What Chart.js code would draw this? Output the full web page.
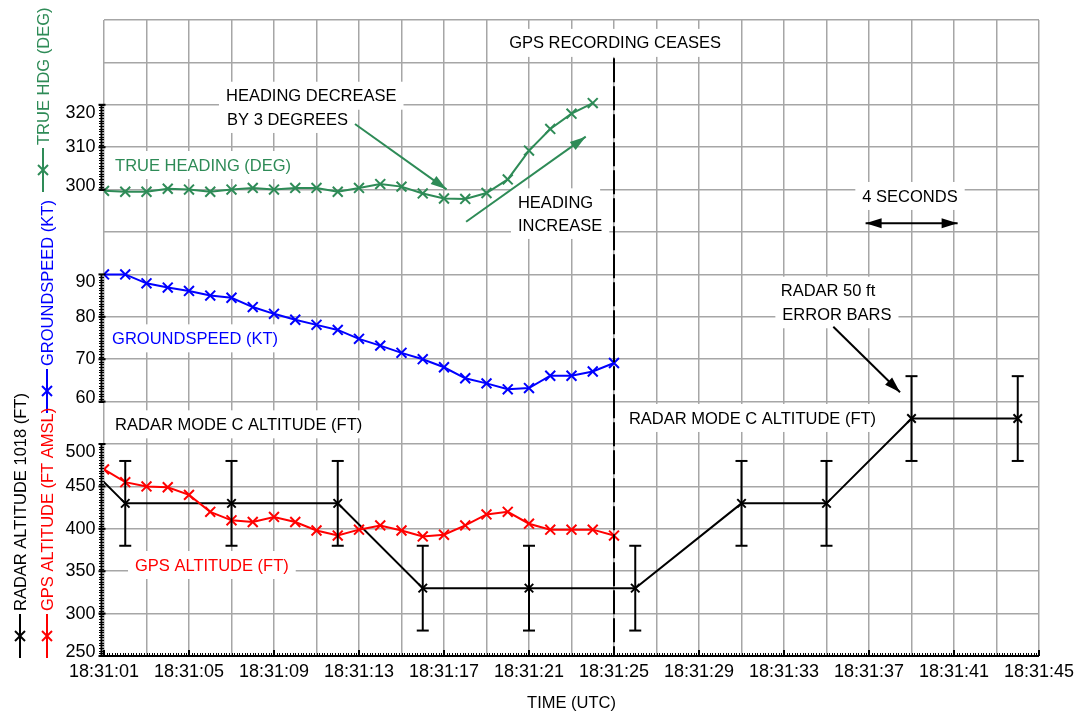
<!DOCTYPE html>
<html>
<head>
<meta charset="utf-8">
<title>GPS and radar altitude, groundspeed and true heading</title>
<script src="https://cdn.jsdelivr.net/npm/chart.js@4.4.1/dist/chart.umd.min.js"></script>
<style>
    html, body { margin: 0; padding: 0; background: #fff; }
    #wrap { width: 1082px; height: 715px; }
</style>
</head>
<body>
<div id="wrap"><canvas id="chart" width="1082" height="715"></canvas></div>
<script>
// --- Data (x = seconds after 18:31:00 UTC) ---
const gpsSeconds = [1, 2, 3, 4, 5, 6, 7, 8, 9, 10, 11, 12, 13, 14, 15, 16, 17, 18, 19, 20, 21, 22, 23, 24, 25];
const trueHeading = [299.7, 299.5, 299.5, 300.2, 300.0, 299.5, 300.0, 300.4, 300.0, 300.4, 300.4, 299.5,
    300.4, 301.3, 300.7, 299.1, 297.9, 297.8, 299.2, 302.4, 309.2, 314.3, 317.9, 320.4];
const groundspeed = [90.0, 90.0, 87.9, 86.9, 86.1, 85.0, 84.5, 82.3, 80.7, 79.3, 78.1, 76.9, 74.8,
    73.2, 71.5, 70.0, 68.1, 65.5, 64.3, 62.9, 63.2, 66.1, 66.1, 67.1, 69.1];
const gpsAltitude = [470, 455, 450, 449, 440, 420, 410, 408, 414, 408, 398, 392, 399, 404, 398, 391,
    393, 404, 417, 420, 406, 399, 399, 399, 392];
const radarSeconds = [-2, 2, 7, 12, 16, 21, 26, 31, 35, 39, 44];
const radarAltitude = [530, 430, 430, 430, 330, 330, 330, 430, 430, 530, 530];
const radarError = [50, 50, 50, 50, 50, 50, 50, 50, 50, 50, 50];
const gpsCeasesAt = 25;

// tick labels
const timeLabels = ['18:31:01', '18:31:05', '18:31:09', '18:31:13', '18:31:17', '18:31:21',
    '18:31:25', '18:31:29', '18:31:33', '18:31:37', '18:31:41', '18:31:45'];
const altTicks = [250, 300, 350, 400, 450, 500];
const gsTicks = [60, 70, 80, 90];
const hdgTicks = [300, 310, 320];

// --- Styles ---
const FONT = '"Liberation Sans", Arial, sans-serif';
const GREEN = '#2e8b57';
const BLUE = '#0000ff';
const RED = '#ff0000';
const GRID = '#a6a6a6';

// annotations, placed in (seconds, altitude-axis) coordinates
const notes = [
    { text: 'GPS RECORDING CEASES', x: 25.05, y: 973, align: 'center', color: '#000' },
    { text: 'HEADING DECREASE', x: 6.74, y: 910.7, align: 'left', color: '#000' },
    { text: 'BY 3 DEGREES', x: 6.79, y: 883.3, align: 'left', color: '#000' },
    { text: 'TRUE HEADING (DEG)', x: 1.52, y: 829, align: 'left', color: GREEN },
    { text: 'HEADING', x: 20.48, y: 785, align: 'left', color: '#000' },
    { text: 'INCREASE', x: 20.48, y: 758.3, align: 'left', color: '#000' },
    { text: 'GROUNDSPEED (KT)', x: 1.38, y: 624.6, align: 'left', color: BLUE },
    { text: 'RADAR MODE C ALTITUDE (FT)', x: 1.52, y: 523.2, align: 'left', color: '#000' },
    { text: 'RADAR MODE C ALTITUDE (FT)', x: 25.7, y: 530.7, align: 'left', color: '#000' },
    { text: 'GPS ALTITUDE (FT)', x: 2.46, y: 357.3, align: 'left', color: RED },
    { text: 'RADAR 50 ft', x: 35.07, y: 680.8, align: 'center', color: '#000' },
    { text: 'ERROR BARS', x: 35.49, y: 653, align: 'center', color: '#000' },
    { text: '4 SECONDS', x: 38.93, y: 792.5, align: 'center', color: '#000' }
];
const arrows = [
    { from: [12.81, 877.4], to: [17.12, 800.3], color: GREEN, both: false },
    { from: [18.04, 762.1], to: [23.67, 862.4], color: GREEN, both: false },
    { from: [35.32, 638.3], to: [38.46, 561.0], color: '#000', both: false },
    { from: [36.84, 760.3], to: [41.17, 760.3], color: '#000', both: true }
];
const axisTitles = [
    { text: 'TRUE HDG (DEG)', color: GREEN, x: 43, bottom: 192 },
    { text: 'GROUNDSPEED (KT)', color: BLUE, x: 47, bottom: 413 },
    { text: 'GPS ALTITUDE (FT AMSL)', color: RED, x: 47, bottom: 658 },
    { text: 'RADAR ALTITUDE 1018 (FT)', color: '#000', x: 20, bottom: 658 }
];

function toPoints(xs, ys) {
    return ys.map((v, i) => ({ x: xs[i], y: v }));
}

function line(ctx, x1, y1, x2, y2) {
    ctx.beginPath();
    ctx.moveTo(x1, y1);
    ctx.lineTo(x2, y2);
    ctx.stroke();
}

function arrowHead(ctx, x1, y1, x2, y2, len, half) {
    const a = Math.atan2(y2 - y1, x2 - x1);
    const bx = x2 - len * Math.cos(a), by = y2 - len * Math.sin(a);
    ctx.beginPath();
    ctx.moveTo(x2, y2);
    ctx.lineTo(bx + half * Math.sin(a), by - half * Math.cos(a));
    ctx.lineTo(bx - half * Math.sin(a), by + half * Math.cos(a));
    ctx.closePath();
    ctx.fill();
}

function drawAxisBar(ctx, scale, ticks, xLine) {
    const top = scale.getPixelForValue(ticks[ticks.length - 1]);
    const bottom = scale.getPixelForValue(ticks[0]);
    ctx.strokeStyle = '#000';
    ctx.lineWidth = 2;
    line(ctx, xLine, top, xLine, bottom);
    // minor ticks
    ctx.lineWidth = 1;
    const n = (ticks.length - 1) * 16;
    for (let i = 0; i <= n; i++) {
        const y = Math.round(top + (bottom - top) * i / n) + 0.5;
        line(ctx, xLine - 2.5, y, xLine + 2.5, y);
    }
    // major ticks + labels
    ctx.lineWidth = 2;
    ctx.fillStyle = '#000';
    ctx.font = '18px ' + FONT;
    ctx.textAlign = 'right';
    ctx.textBaseline = 'middle';
    ticks.forEach((v, i) => {
        const y = scale.getPixelForValue(v);
        line(ctx, xLine - 3, y, xLine + 4, y);
        let ly = y;
        if (i === ticks.length - 1) ly += 8;
        else if (i === 0) ly -= 4;
        ctx.fillText(String(v), xLine - 6, ly);
    });
}

const overlayPlugin = {
    id: 'overlay',
    beforeDatasetsDraw(chart) {
        const ctx = chart.ctx;
        const xs = chart.scales.x, ys = chart.scales.y;
        ctx.save();
        ctx.font = '16.5px ' + FONT;
        ctx.textBaseline = 'middle';
        ctx.textAlign = 'left';
        notes.forEach(n => {
            const w = ctx.measureText(n.text).width;
            const px = xs.getPixelForValue(n.x), py = ys.getPixelForValue(n.y);
            const left = n.align === 'center' ? px - w / 2 : px;
            ctx.fillStyle = '#fff';
            ctx.fillRect(left - 7, py - 14, w + 14, 28);
        });
        notes.forEach(n => {
            const w = ctx.measureText(n.text).width;
            const px = xs.getPixelForValue(n.x), py = ys.getPixelForValue(n.y);
            const left = n.align === 'center' ? px - w / 2 : px;
            ctx.fillStyle = n.color;
            ctx.fillText(n.text, left, py + 1);
        });
        ctx.restore();
    },
    afterDatasetsDraw(chart) {
        const ctx = chart.ctx;
        const area = chart.chartArea;
        const xs = chart.scales.x, ys = chart.scales.y;
        ctx.save();

        // radar error bars
        ctx.save();
        ctx.beginPath();
        ctx.rect(area.left, area.top, area.right - area.left, area.bottom - area.top);
        ctx.clip();
        ctx.strokeStyle = '#000';
        ctx.lineWidth = 2;
        radarSeconds.forEach((t, i) => {
            const px = xs.getPixelForValue(t);
            const hi = ys.getPixelForValue(radarAltitude[i] + radarError[i]);
            const lo = ys.getPixelForValue(radarAltitude[i] - radarError[i]);
            line(ctx, px, hi, px, lo);
            line(ctx, px - 6, hi, px + 6, hi);
            line(ctx, px - 6, lo, px + 6, lo);
        });
        ctx.restore();

        // GPS recording ceases
        const cx = xs.getPixelForValue(gpsCeasesAt);
        ctx.strokeStyle = '#000';
        ctx.lineWidth = 2;
        ctx.setLineDash([24, 4]);
        line(ctx, cx, ys.getPixelForValue(955), cx, area.bottom);
        ctx.setLineDash([]);

        // arrows
        arrows.forEach(a => {
            const x1 = xs.getPixelForValue(a.from[0]), y1 = ys.getPixelForValue(a.from[1]);
            const x2 = xs.getPixelForValue(a.to[0]), y2 = ys.getPixelForValue(a.to[1]);
            ctx.strokeStyle = a.color;
            ctx.fillStyle = a.color;
            ctx.lineWidth = 2;
            line(ctx, x1, y1, x2, y2);
            arrowHead(ctx, x1, y1, x2, y2, 16, 5);
            if (a.both) arrowHead(ctx, x2, y2, x1, y1, 16, 5);
        });

        // bottom axis line with minor ticks
        ctx.strokeStyle = '#000';
        ctx.lineWidth = 2;
        line(ctx, area.left - 3, area.bottom, area.right, area.bottom);
        ctx.lineWidth = 1;
        for (let t = xs.min; t <= xs.max + 1e-6; t += 0.125) {
            const px = Math.round(xs.getPixelForValue(t)) + 0.5;
            line(ctx, px, area.bottom - 3, px, area.bottom);
        }
        ctx.lineWidth = 2;
        for (let t = xs.min; t <= xs.max + 1e-6; t += 4) {
            const px = xs.getPixelForValue(t);
            line(ctx, px, area.bottom - 6, px, area.bottom);
        }

        // left axis bars for the three panels
        const barX = area.left - 2.5;
        drawAxisBar(ctx, chart.scales.y, altTicks, barX);
        drawAxisBar(ctx, chart.scales.yGs, gsTicks, barX);
        drawAxisBar(ctx, chart.scales.yHdg, hdgTicks, barX);
        ctx.restore();
    },
    afterDraw(chart) {
        const ctx = chart.ctx;
        ctx.save();
        ctx.font = '16.5px ' + FONT;
        axisTitles.forEach(t => {
            ctx.save();
            ctx.translate(t.x, t.bottom);
            ctx.rotate(-Math.PI / 2);
            ctx.strokeStyle = t.color;
            ctx.fillStyle = t.color;
            ctx.lineWidth = 2;
            line(ctx, 0, 0, 44, 0);
            line(ctx, 17, -5, 27, 5);
            line(ctx, 17, 5, 27, -5);
            ctx.textAlign = 'left';
            ctx.textBaseline = 'middle';
            ctx.fillText(t.text, 47, 1);
            ctx.restore();
        });
        ctx.restore();
    }
};

function seriesStyle(color) {
    return {
        borderColor: color,
        backgroundColor: color,
        borderWidth: 2,
        pointStyle: 'crossRot',
        pointRadius: 7,
        pointBorderWidth: 2,
        pointHoverRadius: 7,
        tension: 0
    };
}

const ctx = document.getElementById('chart').getContext('2d');
new Chart(ctx, {
    type: 'line',
    data: {
        datasets: [
            Object.assign({ label: 'True heading', data: toPoints(gpsSeconds, trueHeading), yAxisID: 'yHdg' }, seriesStyle(GREEN)),
            Object.assign({ label: 'Groundspeed', data: toPoints(gpsSeconds, groundspeed), yAxisID: 'yGs' }, seriesStyle(BLUE)),
            Object.assign({ label: 'GPS altitude', data: toPoints(gpsSeconds, gpsAltitude), yAxisID: 'y' }, seriesStyle(RED)),
            Object.assign({ label: 'Radar altitude', data: toPoints(radarSeconds, radarAltitude), yAxisID: 'y' },
                seriesStyle('#000'), { pointRadius: 6 })
        ]
    },
    options: {
        responsive: false,
        animation: false,
        layout: { padding: { top: 20, right: 43, left: 0, bottom: 0 } },
        plugins: {
            legend: { display: false },
            tooltip: { enabled: false }
        },
        scales: {
            x: {
                type: 'linear',
                min: 1,
                max: 45,
                afterFit: s => { s.height = 59; },
                grid: { color: GRID, lineWidth: 1.5, drawTicks: false },
                border: { display: false },
                ticks: {
                    stepSize: 2,
                    autoSkip: false,
                    maxRotation: 0,
                    padding: 5,
                    color: '#000',
                    font: { family: FONT, size: 18 },
                    callback: v => {
                        const k = Math.round(v) - 1;
                        return k % 4 === 0 ? timeLabels[k / 4] : '';
                    }
                },
                title: {
                    display: true,
                    text: 'TIME (UTC)',
                    color: '#000',
                    font: { family: FONT, size: 16.5 },
                    padding: { top: 0, bottom: 2 }
                }
            },
            y: {
                position: 'left',
                min: 250,
                max: 1000,
                afterFit: s => { s.width = 104; },
                grid: { color: GRID, lineWidth: 1.5, drawTicks: false },
                border: { display: false },
                ticks: { stepSize: 50, display: false }
            },
            yGs: { position: 'left', display: false, min: 0, max: 150 },
            yHdg: { position: 'left', display: false, min: 190, max: 340 }
        }
    },
    plugins: [overlayPlugin]
});
</script>
</body>
</html>
